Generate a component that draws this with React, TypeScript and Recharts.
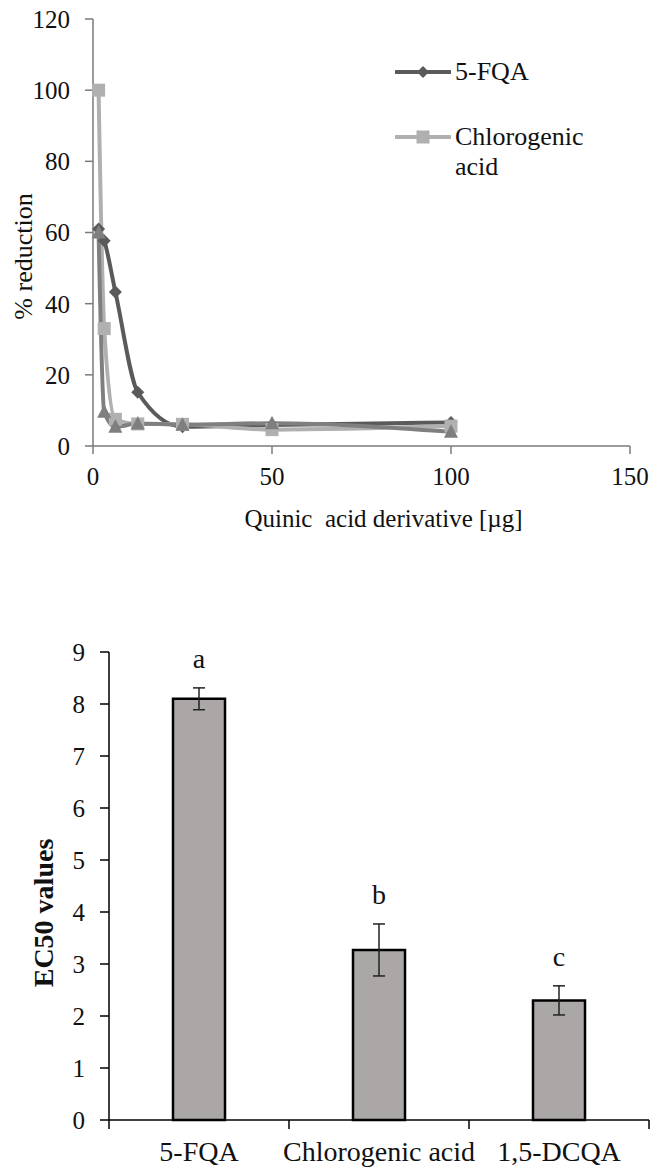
import {
  Bar,
  BarChart,
  ErrorBar,
  LabelList,
  Legend,
  Line,
  LineChart,
  XAxis,
  YAxis,
} from 'recharts'

const FONT = '"Liberation Serif", "Times New Roman", serif'
const INK = '#111'

// upper panel: % reduction against dose (µg)
const doses = [1.56, 3.125, 6.25, 12.5, 25, 50, 100]
const fqaReduction = [61, 57.7, 43.3, 15.1, 5.4, 5.9, 6.6]
const chlorogenicReduction = [100, 33, 7.5, 6.2, 6.1, 4.6, 5.6]
const dcqaReduction = [60, 9.6, 5.4, 6.3, 6.0, 6.4, 4.0]
const doseTicks = [0, 50, 100, 150]
const reductionTicks = [0, 20, 40, 60, 80, 100, 120]

// lower panel: EC50 per compound
const compounds = ['5-FQA', 'Chlorogenic acid', '1,5-DCQA']
const ec50 = [8.1, 3.27, 2.3]
const ec50Err = [0.21, 0.5, 0.28]
const groupLetters = ['a', 'b', 'c']
const ec50Ticks = [0, 1, 2, 3, 4, 5, 6, 7, 8, 9]

const FQA_COLOR = '#5a5a5a'
const CGA_COLOR = '#b0b0b0'
const DCQA_COLOR = '#7f7f7f'
const AXIS_GRAY = '#7a7a7a'

const reductionData = doses.map((dose, i) => ({
  dose,
  fqa: fqaReduction[i],
  cga: chlorogenicReduction[i],
  dcqa: dcqaReduction[i],
}))

const ec50Data = compounds.map((name, i) => ({
  name,
  ec50: ec50[i],
  err: ec50Err[i],
  letter: groupLetters[i],
}))

const BAR_PLOT_W = 540
const HALF_BAND = BAR_PLOT_W / compounds.length / 2

type Pt = { cx?: number; cy?: number; index?: number }

function diamond(p: Pt) {
  const { cx = 0, cy = 0 } = p
  const r = 6.5
  return (
    <path
      key={`dia-${p.index}`}
      d={`M${cx},${cy - r} L${cx + r},${cy} L${cx},${cy + r} L${cx - r},${cy} Z`}
      fill={FQA_COLOR}
    />
  )
}

function square(p: Pt) {
  const { cx = 0, cy = 0 } = p
  return <rect key={`sq-${p.index}`} x={cx - 6.5} y={cy - 6.5} width={13} height={13} fill={CGA_COLOR} />
}

function triangle(p: Pt) {
  const { cx = 0, cy = 0 } = p
  return (
    <path
      key={`tri-${p.index}`}
      d={`M${cx},${cy - 7.5} L${cx + 7},${cy + 6} L${cx - 7},${cy + 6} Z`}
      fill={DCQA_COLOR}
    />
  )
}

function LegendIcon({ color, shape }: { color: string; shape: 'diamond' | 'square' }) {
  return (
    <svg width={56} height={30} style={{ flex: 'none', marginRight: 4 }}>
      <line x1={1} y1={15} x2={55} y2={15} stroke={color} strokeWidth={4} strokeLinecap="round" />
      {shape === 'diamond' ? (
        <path d="M28,9 L34,15 L28,21 L22,15 Z" fill={color} />
      ) : (
        <rect x={21.5} y={8.5} width={13} height={13} fill={color} />
      )}
    </svg>
  )
}

function ReductionLegend() {
  return (
    <div style={{ fontFamily: FONT, fontSize: 26, lineHeight: '30px', color: INK }}>
      <div style={{ display: 'flex', alignItems: 'flex-start', marginBottom: 35 }}>
        <LegendIcon color={FQA_COLOR} shape="diamond" />
        <span>5-FQA</span>
      </div>
      <div style={{ display: 'flex', alignItems: 'flex-start' }}>
        <LegendIcon color={CGA_COLOR} shape="square" />
        <span>
          Chlorogenic
          <br />
          acid
        </span>
      </div>
    </div>
  )
}

function CategoryTick(props: { x?: number; y?: number; index?: number; payload?: { value: string } }) {
  const { x = 0, y = 0, index = 0, payload } = props
  const axisY = y - 21
  const last = index === compounds.length - 1
  return (
    <g>
      <line x1={x - HALF_BAND} y1={axisY} x2={x - HALF_BAND} y2={axisY + 9} stroke="#000" strokeWidth={1.5} />
      {last && (
        <line x1={x + HALF_BAND} y1={axisY} x2={x + HALF_BAND} y2={axisY + 9} stroke="#000" strokeWidth={1.5} />
      )}
      <text x={x} y={y} dy="0.71em" textAnchor="middle" fontSize={28} fontFamily={FONT} fill={INK}>
        {payload?.value}
      </text>
    </g>
  )
}

function renderLetter(props: any) {
  const { x = 0, y = 0, width = 0, height = 0, index = 0, value } = props
  const perUnit = height / ec50[index]
  const errTop = y - ec50Err[index] * perUnit
  return (
    <text
      key={`letter-${index}`}
      x={x + width / 2}
      y={errTop - 20}
      textAnchor="middle"
      fontSize={28}
      fontFamily={FONT}
      fill={INK}
    >
      {value}
    </text>
  )
}

export default function App() {
  const tickStyle = { fontSize: 25, fill: INK, fontFamily: FONT }

  return (
    <div style={{ position: 'absolute', left: 0, top: 0, width: 665, height: 1174, background: '#fff' }}>
      <LineChart
        width={665}
        height={560}
        data={reductionData}
        margin={{ top: 19, right: 35, bottom: 54, left: 0 }}
      >
        <XAxis
          type="number"
          dataKey="dose"
          domain={[0, 150]}
          ticks={doseTicks}
          interval={0}
          height={60}
          stroke={AXIS_GRAY}
          strokeWidth={1.5}
          tickSize={8}
          tickMargin={13}
          tick={tickStyle}
          label={{
            content: ({ viewBox }: any) => (
              <text
                x={viewBox.x + viewBox.width / 2 + 22}
                y={527}
                textAnchor="middle"
                fontSize={25}
                fontFamily={FONT}
                fill={INK}
              >
                {'Quinic\u00A0 acid derivative [µg]'}
              </text>
            ),
          }}
        />
        <YAxis
          type="number"
          domain={[0, 120]}
          ticks={reductionTicks}
          interval={0}
          width={93}
          stroke={AXIS_GRAY}
          strokeWidth={1.5}
          tickSize={8}
          tickMargin={15}
          tick={tickStyle}
          label={{
            content: ({ viewBox }: any) => {
              const cy = viewBox.y + viewBox.height / 2 + 24
              return (
                <text
                  x={23}
                  y={cy}
                  transform={`rotate(-90 23 ${cy})`}
                  textAnchor="middle"
                  dominantBaseline="central"
                  fontSize={26}
                  fontFamily={FONT}
                  fill={INK}
                >
                  % reduction
                </text>
              )
            },
          }}
        />
        <Legend
          layout="horizontal"
          verticalAlign="middle"
          align="center"
          content={<ReductionLegend />}
          wrapperStyle={{ top: 57, left: 395, width: 230 }}
        />
        <Line
          name="5-FQA"
          type="monotone"
          dataKey="fqa"
          stroke={FQA_COLOR}
          strokeWidth={4}
          dot={diamond}
          activeDot={false}
          isAnimationActive={false}
        />
        <Line
          name="Chlorogenic acid"
          type="monotone"
          dataKey="cga"
          stroke={CGA_COLOR}
          strokeWidth={4}
          dot={square}
          activeDot={false}
          isAnimationActive={false}
        />
        <Line
          name="1,5-DCQA"
          type="monotone"
          dataKey="dcqa"
          stroke={DCQA_COLOR}
          strokeWidth={4}
          dot={triangle}
          activeDot={false}
          legendType="none"
          isAnimationActive={false}
        />
      </LineChart>

      <BarChart
        width={665}
        height={614}
        data={ec50Data}
        margin={{ top: 92, right: 16, bottom: 0, left: 0 }}
        barSize={52}
      >
        <XAxis
          dataKey="name"
          interval={0}
          height={54}
          axisLine={{ stroke: '#000', strokeWidth: 1.5 }}
          tickLine={false}
          tickSize={9}
          tickMargin={12}
          tick={<CategoryTick />}
        />
        <YAxis
          type="number"
          domain={[0, 9]}
          ticks={ec50Ticks}
          interval={0}
          width={109}
          stroke="#000"
          strokeWidth={1.5}
          tickSize={9}
          tickMargin={15}
          tick={tickStyle}
          label={{
            content: ({ viewBox }: any) => {
              const cy = viewBox.y + viewBox.height / 2 + 27
              return (
                <text
                  x={43}
                  y={cy}
                  transform={`rotate(-90 43 ${cy})`}
                  textAnchor="middle"
                  dominantBaseline="central"
                  fontSize={28}
                  fontWeight="bold"
                  fontFamily={FONT}
                  fill={INK}
                >
                  EC50 values
                </text>
              )
            },
          }}
        />
        <Bar dataKey="ec50" fill="#aba7a7" stroke="#000" strokeWidth={2.5} isAnimationActive={false}>
          <ErrorBar dataKey="err" direction="y" width={6} stroke="#222" strokeWidth={1.5} />
          <LabelList dataKey="letter" content={renderLetter} />
        </Bar>
      </BarChart>
    </div>
  )
}
